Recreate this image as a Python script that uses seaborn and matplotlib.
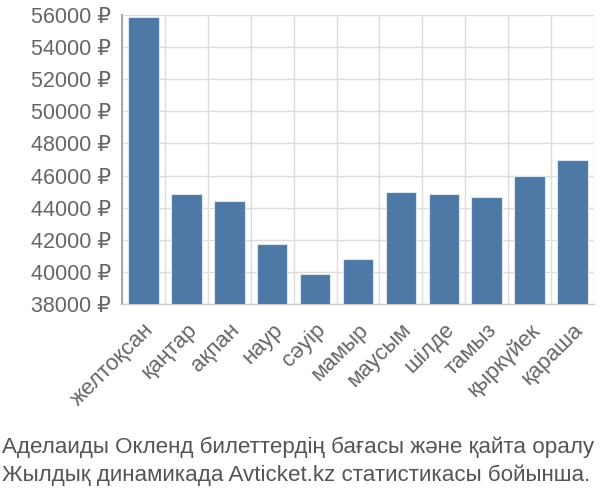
import matplotlib
matplotlib.use("Agg")
import matplotlib.pyplot as plt
import seaborn as sns
import pandas as pd
from matplotlib.ticker import FixedLocator

months = ["желтоқсан", "қаңтар", "ақпан", "наур", "сәуір", "мамыр",
          "маусым", "шілде", "тамыз", "қыркүйек", "қараша"]
prices = [55900, 44870, 44400, 41720, 39870, 40800,
          44960, 44870, 44690, 45960, 46990]
yticks = [38000, 40000, 42000, 44000, 46000, 48000, 50000, 52000, 54000, 56000]
title_lines = ["Аделаиды Окленд билеттердің бағасы және қайта оралу",
               "Жылдық динамикада Avticket.kz статистикасы бойынша."]

sns.set_style("white")
plt.rcParams['font.family'] = ['Liberation Sans', 'DejaVu Sans']

df = pd.DataFrame({"month": months, "price": prices})

fig = plt.figure(figsize=(6, 5), dpi=100)
ax = fig.add_axes([122/600, 1-304/500, (594-122)/600, (304-15)/500])

sns.barplot(data=df, x="month", y="price", color="#4e79a7", width=0.71,
            edgecolor="#dde6f0", linewidth=0.8, saturation=1, ax=ax, zorder=3)

ax.set_ylim(38000, 56000)
ax.set_xlim(-0.5, len(months) - 0.5)
ax.set_yticks(yticks)
ax.set_yticklabels([f"{v} ₽" for v in yticks], fontsize=15.5, color="#666666")
ax.set_xticks(range(len(months)))
ax.set_xticklabels(months, rotation=45, ha="right", rotation_mode="anchor",
                   fontsize=16, color="#666666")
ax.tick_params(axis="x", length=0, pad=11)
ax.tick_params(axis="y", length=6, color="#dddddd", width=1, pad=2)
ax.xaxis.set_minor_locator(FixedLocator([i - 0.5 for i in range(len(months) + 1)]))
ax.tick_params(axis="x", which="minor", length=16, color="#dddddd", width=1)
ax.grid(True, axis="y", which="major", color="#dddddd", linewidth=1, zorder=0)
ax.grid(True, axis="x", which="minor", color="#dddddd", linewidth=1, zorder=0)
ax.set_xlabel("")
ax.set_ylabel("")
for s in ["top", "right"]:
    ax.spines[s].set_visible(False)
ax.spines["left"].set_color("#aaaaaa")
ax.spines["left"].set_linewidth(1.5)
ax.spines["bottom"].set_color("#cccccc")
ax.spines["bottom"].set_linewidth(1)

fig.text(2/600, 1-447/500, title_lines[0], fontsize=16.1, color="#555555",
         ha="left", va="center")
fig.text(2/600, 1-475/500, title_lines[1], fontsize=16.1, color="#555555",
         ha="left", va="center")

fig.savefig("out.png", dpi=100)
